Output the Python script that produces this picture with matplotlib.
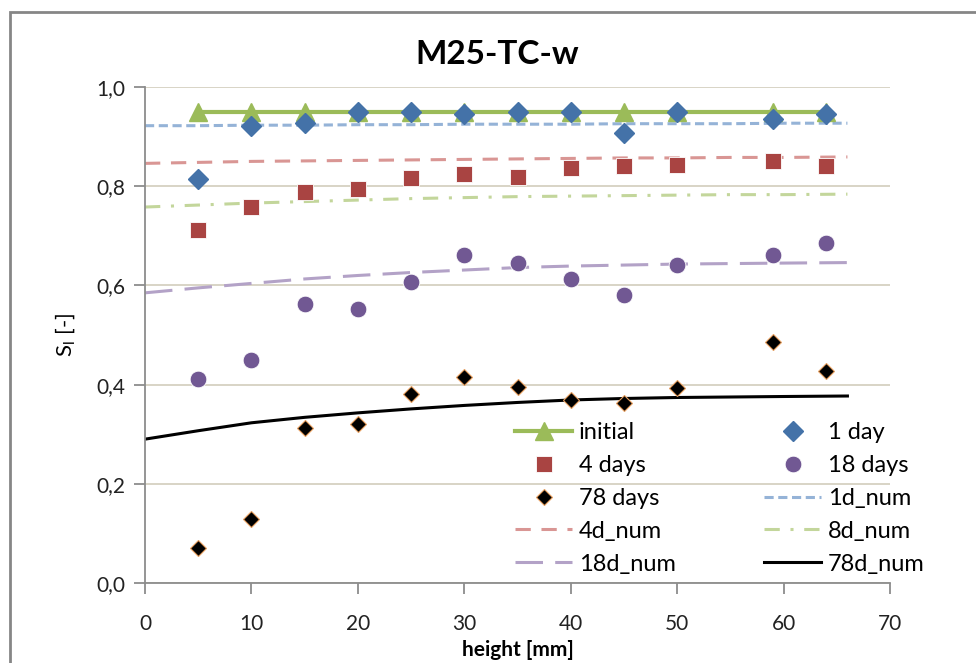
import matplotlib
matplotlib.use("Agg")
import matplotlib.pyplot as plt
from matplotlib.patches import Rectangle
from matplotlib.ticker import FuncFormatter

plt.rcParams['font.family'] = ['Lato', 'DejaVu Sans']

# measured heights [mm]
heights = [5, 10, 15, 20, 25, 30, 35, 40, 45, 50, 59, 64]
initial = [0.95] * 12
day1 = [0.815, 0.921, 0.927, 0.949, 0.949, 0.945, 0.949, 0.949, 0.907, 0.949, 0.935, 0.945]
day4 = [0.712, 0.759, 0.788, 0.794, 0.816, 0.825, 0.819, 0.836, 0.841, 0.843, 0.850, 0.841]
day18 = [0.411, 0.450, 0.562, 0.552, 0.606, 0.662, 0.645, 0.613, 0.581, 0.642, 0.661, 0.686]
day78 = [0.070, 0.130, 0.313, 0.320, 0.382, 0.416, 0.395, 0.369, 0.362, 0.394, 0.485, 0.428]

# numerical curves
x_num = [0, 5, 10, 15, 20, 25, 30, 35, 40, 45, 50, 55, 60, 66]
num1d = [0.922, 0.922, 0.923, 0.923, 0.924, 0.924, 0.925, 0.925, 0.925, 0.926, 0.926, 0.926, 0.927, 0.927]
num4d = [0.846, 0.848, 0.850, 0.851, 0.852, 0.853, 0.854, 0.855, 0.856, 0.857, 0.857, 0.858, 0.858, 0.859]
num8d = [0.758, 0.762, 0.766, 0.769, 0.772, 0.775, 0.777, 0.779, 0.780, 0.781, 0.782, 0.783, 0.783, 0.784]
num18d = [0.585, 0.595, 0.604, 0.613, 0.620, 0.626, 0.631, 0.636, 0.639, 0.641, 0.643, 0.644, 0.645, 0.646]
num78d = [0.290, 0.307, 0.323, 0.334, 0.343, 0.351, 0.358, 0.364, 0.369, 0.372, 0.374, 0.375, 0.376, 0.377]

x_ticks = [0, 10, 20, 30, 40, 50, 60, 70]
y_ticks = [0.0, 0.2, 0.4, 0.6, 0.8, 1.0]

fig = plt.figure(figsize=(9.76, 6.63), dpi=100)
fig.patches.append(Rectangle((10 / 976, -0.05), 1.2, 1 - 12 / 663 + 0.05, transform=fig.transFigure,
                             fill=False, edgecolor='#868686', linewidth=2.0, zorder=0))
ax = fig.add_axes([145 / 976, 1 - 583 / 663, 745 / 976, 496 / 663])

h = {}
h['1d_num'], = ax.plot(x_num, num1d, color='#95B3D7', lw=2.2, dashes=(3, 1.5), zorder=2)
h['4d_num'], = ax.plot(x_num, num4d, color='#D99694', lw=2.2, dashes=(5, 3.5), zorder=2)
h['8d_num'], = ax.plot(x_num, num8d, color='#C3D69B', lw=2.2, dashes=(5, 3.5, 1, 3.5), zorder=2)
h['18d_num'], = ax.plot(x_num, num18d, color='#B3A2C7', lw=2.2, dashes=(9, 4), zorder=2)
h['78d_num'], = ax.plot(x_num, num78d, color='black', lw=2.2, zorder=2)

h['initial'], = ax.plot(heights, initial, color='#9BBB59', lw=3, marker='^', ms=13,
                        markerfacecolor='#9BBB59', markeredgecolor='#9BBB59', zorder=3)
h['1 day'], = ax.plot(heights, day1, ls='none', marker='D', ms=10, color='#4472A8',
                      markeredgecolor='#4472A8', zorder=4)
h['4 days'], = ax.plot(heights, day4, ls='none', marker='s', ms=12, color='#A94442',
                       markeredgecolor='white', markeredgewidth=0.6, zorder=4)
h['18 days'], = ax.plot(heights, day18, ls='none', marker='o', ms=12, color='#715893',
                        markeredgecolor='white', markeredgewidth=0.6, zorder=4)
h['78 days'], = ax.plot(heights, day78, ls='none', marker='D', ms=8, color='black',
                        markeredgecolor='#E8A060', markeredgewidth=0.8, zorder=4)

ax.set_xlim(0, 70)
ax.set_ylim(0, 1.0)
ax.set_xticks(x_ticks)
ax.set_yticks(y_ticks)
ax.yaxis.set_major_formatter(FuncFormatter(lambda v, p: f"{v:.1f}".replace('.', ',')))
ax.grid(axis='y', color='#D6D1C2', lw=1.3, zorder=0)
ax.set_axisbelow(True)
for s in ['top', 'right']:
    ax.spines[s].set_visible(False)
for s in ['left', 'bottom']:
    ax.spines[s].set_color('#8C8C8C')
    ax.spines[s].set_linewidth(1.3)
ax.tick_params(axis='both', direction='out', length=8, width=1.3, color='#8C8C8C',
               labelsize=15, labelcolor='#222222', pad=6)
ax.tick_params(axis='x', pad=14)

fig.text(497 / 976, 1 - 55 / 663, 'M25-TC-w', fontsize=24, fontweight='bold',
         ha='center', va='center')
ax.set_xlabel('height [mm]', fontsize=15, fontweight='bold', labelpad=5)
ax.set_ylabel(r'S$_\mathregular{l}$ [-]', fontsize=16, labelpad=13)

order = ['initial', '4 days', '78 days', '4d_num', '18d_num',
         '1 day', '18 days', '1d_num', '8d_num', '78d_num']
leg = ax.legend([h[k] for k in order], order, ncol=2, frameon=False, fontsize=17,
                loc='lower left', bbox_to_anchor=(0.497, 0.017), handlelength=2.4,
                handletextpad=0.3, columnspacing=3.75, labelspacing=0.5,
                borderpad=0, borderaxespad=0)

fig.savefig('out.png', dpi=100)
